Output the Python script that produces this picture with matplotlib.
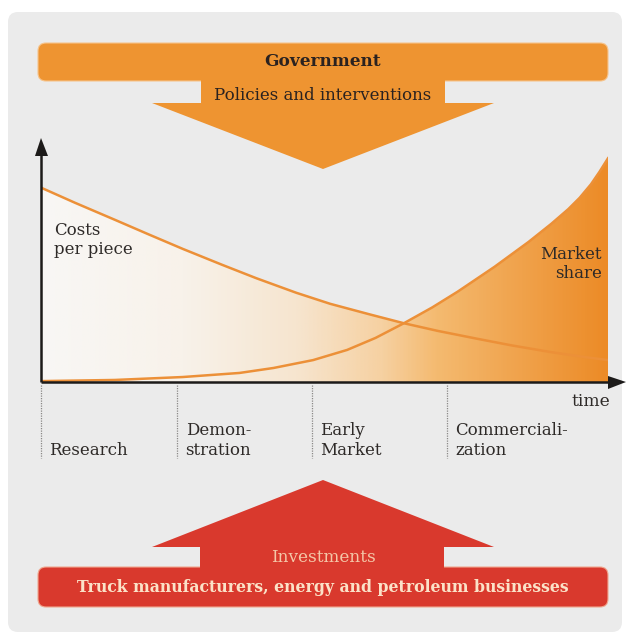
import numpy as np
import matplotlib
matplotlib.use("Agg")
import matplotlib.pyplot as plt
from matplotlib.patches import FancyBboxPatch, Polygon
from matplotlib.colors import LinearSegmentedColormap
from matplotlib.transforms import blended_transform_factory

# values (time 0-100, value 0-100)
cost_t = [0, 6, 13, 19, 25, 32, 38, 45, 51, 58, 64, 70, 77, 83, 90, 96, 100]
cost_v = [86, 79.3, 71.8, 65.3, 58.9, 51.8, 45.9, 39.5, 34.6, 29.9, 26, 22.6, 19.1,
          16.2, 13.2, 11, 9.7]
share_t = [0, 13, 25, 35, 41, 48, 54, 59, 64, 69, 73.5, 80, 86, 90, 93, 95, 97, 98.5, 100]
share_v = [0.4, 0.9, 2.2, 4, 6.2, 9.7, 14.2, 19.5, 26, 33, 40, 51, 62, 70, 76.5, 81.5,
           87.5, 93, 99]

stages = ["Research", "Demon-\nstration", "Early\nMarket", "Commerciali-\nzation"]
stage_start = [0, 24, 47.8, 71.6]

top_title = "Government"
top_sub = "Policies and interventions"
bottom_sub = "Investments"
bottom_title = "Truck manufacturers, energy and petroleum businesses"

ORANGE = "#ee9431"
RED = "#d9392d"
LINE = "#ec9038"
DARK = "#2e2a28"
PANEL = "#ebebeb"

plt.rcParams['font.family'] = ['DejaVu Serif']

W, H = 628, 635
fig = plt.figure(figsize=(W / 100, H / 100), dpi=100)
fig.patch.set_facecolor("white")

# background layer in pixel coordinates
bg = fig.add_axes([0, 0, 1, 1], zorder=0)
bg.set_xlim(0, W)
bg.set_ylim(H, 0)
bg.axis("off")

bg.add_patch(FancyBboxPatch((8, 12), 614, 620, boxstyle="round,pad=0,rounding_size=10",
                            fc=PANEL, ec="none"))

# government bar + down arrow
bg.add_patch(FancyBboxPatch((38, 43), 570, 38, boxstyle="round,pad=0,rounding_size=8",
                            fc=ORANGE, ec="#f6c48c", lw=0.8))
bg.add_patch(Polygon([(201, 78), (445, 78), (445, 103), (494, 103), (323, 169),
                      (152, 103), (201, 103)], closed=True, fc=ORANGE, ec="none"))
bg.text(323, 62, top_title, ha="center", va="center", fontsize=12.2,
        fontweight="bold", color="#2a2220")
bg.text(323, 95, top_sub, ha="center", va="center", fontsize=12, color="#2a2220")

# investments bar + up arrow
bg.add_patch(FancyBboxPatch((38, 567), 570, 40, boxstyle="round,pad=0,rounding_size=8",
                            fc=RED, ec="#f0a890", lw=0.8))
bg.add_patch(Polygon([(200, 570), (444, 570), (444, 547), (494, 547), (323, 480),
                      (152, 547), (200, 547)], closed=True, fc=RED, ec="none"))
bg.text(323, 557, bottom_sub, ha="center", va="center", fontsize=12.2, color="#f4c7a8")
bg.text(323, 587, bottom_title, ha="center", va="center", fontsize=11.3,
        fontweight="bold", color="#fbe2c8")

# chart area
x0, x1, ytop, ybase = 41, 608, 156, 382
ax = fig.add_axes([x0 / W, (H - ybase) / H, (x1 - x0) / W, (ybase - ytop) / H], zorder=1)
ax.set_xlim(0, 100)
ax.set_ylim(0, 100)
ax.patch.set_alpha(0)
ax.axis("off")

grad = LinearSegmentedColormap.from_list("g", [
    (0.0, "#f8f7f5"), (0.25, "#f8f2ea"), (0.45, "#f6e5cf"), (0.6, "#f6d1a2"),
    (0.7, "#f4ba70"), (0.85, "#f0a24b"), (1.0, "#ec8b27")])
img = np.linspace(0, 1, 400).reshape(1, -1)

for tt, vv in [(cost_t, cost_v), (share_t, share_v)]:
    poly = Polygon(list(zip(tt, vv)) + [(tt[-1], 0), (tt[0], 0)], closed=True,
                   fc="none", ec="none", transform=ax.transData)
    ax.add_patch(poly)
    im = ax.imshow(img, cmap=grad, extent=[0, 100, 0, 100], aspect="auto",
                   origin="lower", zorder=1)
    im.set_clip_path(poly)

ax.plot(cost_t, cost_v, color=LINE, lw=1.8, zorder=3, solid_joinstyle="round")
ax.plot(share_t, share_v, color=LINE, lw=1.8, zorder=3, solid_joinstyle="round")

# front layer: axes arrows, dividers, labels
fr = fig.add_axes([0, 0, 1, 1], zorder=2)
fr.set_xlim(0, W)
fr.set_ylim(H, 0)
fr.axis("off")
fr.patch.set_alpha(0)

fr.plot([41, 610], [382, 382], color="#1c1a19", lw=1.8, solid_capstyle="butt")
fr.add_patch(Polygon([(608, 376), (626, 382), (608, 389)], closed=True, fc="#1c1a19", ec="none"))
fr.plot([41, 41], [382, 154], color="#1c1a19", lw=1.8, solid_capstyle="butt")
fr.add_patch(Polygon([(35, 156), (41, 138), (48, 156)], closed=True, fc="#1c1a19", ec="none"))

mix = blended_transform_factory(ax.transData, fr.transData)
for s, label in zip(stage_start, stages):
    fr.plot([s, s], [385, 458], color="#8a8886", lw=0.9, ls=(0, (1, 1)), transform=mix)
    fr.text(s + 1.5, 459, label, transform=mix, ha="left", va="bottom",
            fontsize=12, color=DARK, linespacing=1.2)

fr.text(610, 401, "time", ha="right", va="center", fontsize=12.3, color=DARK)
fr.text(54, 240, "Costs\nper piece", ha="left", va="center", fontsize=12,
        color=DARK, linespacing=1.15)
fr.text(602, 264, "Market\nshare", ha="right", va="center", fontsize=12,
        color=DARK, linespacing=1.15)

fig.savefig("out.png", dpi=100)
